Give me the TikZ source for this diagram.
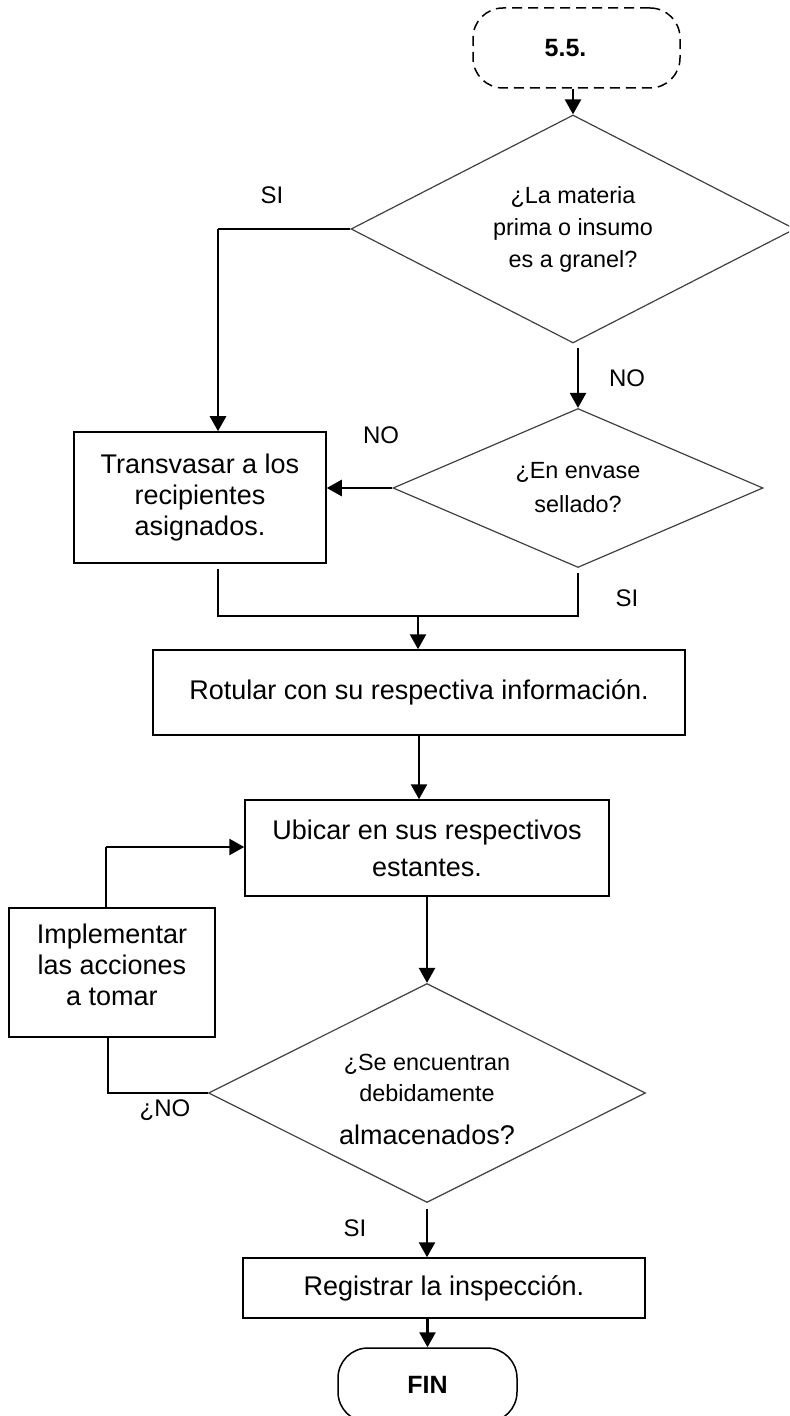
\documentclass[tikz,border=0pt]{standalone}
\usepackage{fontspec}
\setmainfont{Liberation Sans}
\usetikzlibrary{shapes.geometric,arrows.meta,calc}
\begin{document}
\begin{tikzpicture}[x=0.5pt,y=-0.5pt,
  boxnode/.style={draw=black,line width=0.75pt,rectangle,inner sep=0pt,align=center,
    font=\fontsize{13.5}{15.5}\selectfont},
  decnode/.style={draw=black!75,line width=0.6pt,diamond,aspect=2,inner sep=0pt,align=center,
    font=\fontsize{11.7}{16}\selectfont},
  termnode/.style={draw=black,line width=0.75pt,rectangle,rounded corners=15pt,inner sep=0pt,
    font=\bfseries\fontsize{12.5}{15}\selectfont},
  lbl/.style={inner sep=0pt,font=\fontsize{12}{14}\selectfont},
  arr/.style={line width=1.25pt,-{Triangle[length=7.5pt,width=8pt]}},
  thinline/.style={line width=0.75pt}
]
\useasboundingbox (0,0) rectangle (789,1416);
\clip (0,0) rectangle (789,1416);

% nodes
\node[termnode,dash pattern=on 5pt off 3pt,minimum width=103.5pt,minimum height=40pt] (start) at (576.5,48) {5.5.\hspace*{11pt}};
\node[decnode,minimum width=222pt,minimum height=114pt] (d1) at (573,229) {¿La materia\\prima o insumo\\es a granel?};
\node[decnode,minimum width=185pt,minimum height=79.5pt,font=\fontsize{11.7}{17}\selectfont] (d2) at (578,488) {¿En envase\\sellado?};
\node[boxnode,minimum width=126pt,minimum height=65.5pt] (trans) at (200,497.5) {Transvasar a los\\recipientes\\asignados.};
\node[boxnode,minimum width=266pt,minimum height=42.5pt] (rot) at (419,692.5) {Rotular con su respectiva información.};
\node[boxnode,minimum width=182pt,minimum height=48pt,font=\fontsize{13.5}{18.5}\selectfont] (ubi) at (427,848) {Ubicar en sus respectivos\\estantes.};
\node[boxnode,minimum width=103pt,minimum height=64.5pt] (impl) at (112,972.5) {Implementar\\las acciones\\a tomar\\[-8pt]};
\node[decnode,minimum width=218.5pt,minimum height=109.5pt,font=\fontsize{11.7}{15.5}\selectfont] (d3) at (427,1093) {\\[-1pt]¿Se encuentran\\debidamente\\[6pt]{\fontsize{13.5}{15}\selectfont almacenados?}};
\node[boxnode,minimum width=201pt,minimum height=30pt] (reg) at (444,1288) {Registrar la inspección.};
\node[termnode,minimum width=89.5pt,minimum height=37pt] (fin) at (427.5,1385) {FIN};

% labels
\node[lbl] (siA) at (272,195) {SI};
\node[lbl] (noA) at (627,378) {NO};
\node[lbl] (noB) at (381,435) {NO};
\node[lbl] (siB) at (627,598) {SI};
\node[lbl] (noC) at (165,1110) {¿NO};
\node[lbl] (siC) at (355,1228) {SI};

% coordinates
\coordinate (b1) at (218,229);
\coordinate (m1) at (218,616);
\coordinate (m2) at (578,616);
\coordinate (j) at (418,616);
\coordinate (b3) at (108,1093);
\coordinate (b4) at (106,847);

% connectors
\draw[arr] (d1.north |- start.south) -- (d1.north);
\draw[thinline] (d1.west) -- (b1);
\draw[arr] (b1) -- (b1 |- trans.north);
\draw[arr,shorten <=2pt] (d2.north |- d1.south) -- (d2.north);
\draw[arr] (d2.west) -- (d2.west -| trans.east);
\draw[thinline,shorten <=2.5pt,shorten >=2.5pt] (trans.south -| m1) -- (m1) -- (m2) -- (d2.south);
\draw[arr] (j) -- (j |- rot.north);
\draw[arr] (rot.south) -- (rot.south |- ubi.north);
\draw[arr] (ubi.south) -- (ubi.south |- d3.north);
\draw[thinline] (d3.west) -- (b3) -- (b3 |- impl.south);
\draw[thinline] (impl.north -| b4) -- (b4);
\draw[arr] (b4) -- (b4 -| ubi.west);
\draw[arr,shorten <=3pt] (d3.south) -- (d3.south |- reg.north);
\draw[arr] (fin.north |- reg.south) -- (fin.north);
\end{tikzpicture}
\end{document}
